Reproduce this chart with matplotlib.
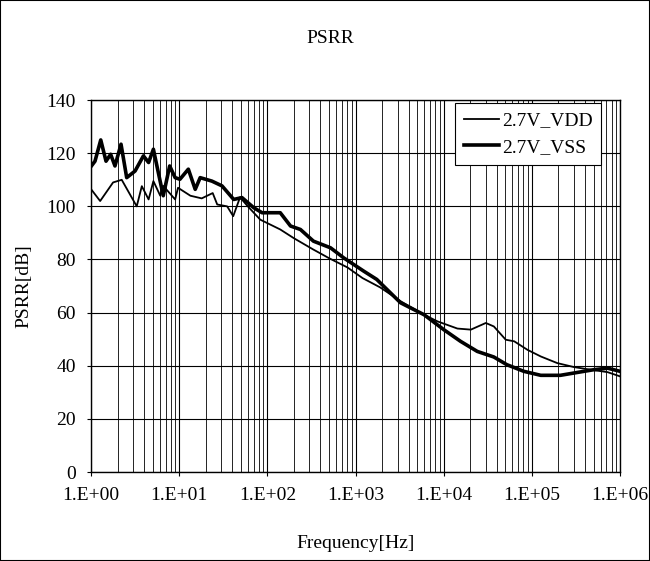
import matplotlib
matplotlib.use("Agg")
import matplotlib.pyplot as plt
from matplotlib.patches import Rectangle
from matplotlib.ticker import LogLocator, NullFormatter, FixedLocator

plt.rcParams['font.family'] = ['Liberation Serif', 'DejaVu Serif']

# 2.7V_VDD (тонкая линия)
vdd_freq = [1.0, 1.27, 1.78, 2.23, 3.3, 3.77, 4.5, 5.1, 6.1, 6.6, 9.0, 9.7, 13.4, 18, 24, 27,
            35, 41, 49, 60, 83, 140, 200, 330, 500, 810, 1200, 1900, 3240, 5990, 8500,
            14300, 20300, 30000, 37000, 50500, 63000, 89000, 126000, 194000, 300000,
            468000, 720000, 1e6]
vdd_db = [106.5, 102, 109, 110, 100, 107.6, 102.6, 109.5, 104, 107.7, 102.6, 107, 104, 103,
          105, 100.7, 100, 96.3, 103.4, 100, 95, 91.3, 88, 83.8, 80.5, 77, 73, 69.5, 64.3,
          59.2, 56.7, 54, 53.6, 56.1, 54.8, 49.8, 49.2, 46, 43.5, 41, 39.5, 38.5, 37.6, 36]

# 2.7V_VSS (толстая линия)
vss_freq = [1.0, 1.11, 1.29, 1.48, 1.67, 1.87, 2.19, 2.54, 3.16, 3.93, 4.5, 5.1, 5.8, 6.6,
            7.8, 9.0, 10.2, 12.7, 15.2, 17.3, 23.5, 30.6, 41.5, 51.5, 70, 87, 140, 183, 237,
            333, 520, 735, 1240, 1740, 3240, 5990, 10000, 15500, 24000, 37000, 52000,
            81000, 126000, 210000, 330000, 500000, 720000, 1e6]
vss_db = [115, 117, 125, 117, 119.6, 115.2, 123.4, 110.8, 113.3, 119, 116.5, 121.5, 112.7,
          104, 115.2, 110.8, 110.2, 114, 106.4, 110.8, 109.5, 107.7, 102.6, 103.3, 99.5,
          97.6, 97.6, 92.6, 91.3, 86.9, 84.4, 80.6, 75.6, 72.5, 63.7, 59.2, 53.6, 49.2,
          45.4, 43.3, 40.4, 37.9, 36.4, 36.4, 37.5, 38.5, 39.1, 37.9]

x_ticks = [1, 10, 100, 1000, 10000, 100000, 1000000]
x_labels = ['1.E+00', '1.E+01', '1.E+02', '1.E+03', '1.E+04', '1.E+05', '1.E+06']
y_ticks = [0, 20, 40, 60, 80, 100, 120, 140]

fig = plt.figure(figsize=(6.5, 5.61), dpi=100)
ax = fig.add_axes([0.14, 0.1586, 0.814, 0.663])

ax.plot(vdd_freq, vdd_db, color='black', linewidth=1.3, label='2.7V_VDD')
ax.plot(vss_freq, vss_db, color='black', linewidth=2.6, label='2.7V_VSS')

ax.set_xscale('log')
ax.set_xlim(1, 1e6)
ax.set_ylim(0, 140)
ax.xaxis.set_major_locator(FixedLocator(x_ticks))
ax.set_xticklabels(x_labels)
ax.xaxis.set_minor_locator(LogLocator(base=10, subs=range(2, 10), numticks=20))
ax.xaxis.set_minor_formatter(NullFormatter())
ax.set_yticks(y_ticks)

ax.grid(True, which='major', axis='both', color='black', linewidth=0.8)
ax.grid(True, which='minor', axis='x', color='black', linewidth=0.6)
ax.tick_params(axis='both', which='major', labelsize=14, length=3, direction='out', pad=8)
ax.tick_params(axis='x', which='minor', length=0)
for s in ax.spines.values():
    s.set_linewidth(1.0)

ax.set_xlabel('Frequency[Hz]', fontsize=14, labelpad=22)
ax.set_ylabel('PSRR[dB]', fontsize=14, labelpad=10)
fig.text(0.508, 0.931, 'PSRR', fontsize=14, ha='center', va='center')

leg = ax.legend(loc='upper right', bbox_to_anchor=(0.964, 0.992), fontsize=14,
                frameon=True, fancybox=False, edgecolor='black', framealpha=1,
                borderaxespad=0, handlelength=1.8, handletextpad=0.15,
                labelspacing=0.45, borderpad=0.45)
leg.get_frame().set_linewidth(0.8)

fig.patches.append(Rectangle((0, 0), 1, 1, transform=fig.transFigure, fill=False,
                             edgecolor='black', linewidth=1.5))

fig.savefig('out.png', dpi=100)
